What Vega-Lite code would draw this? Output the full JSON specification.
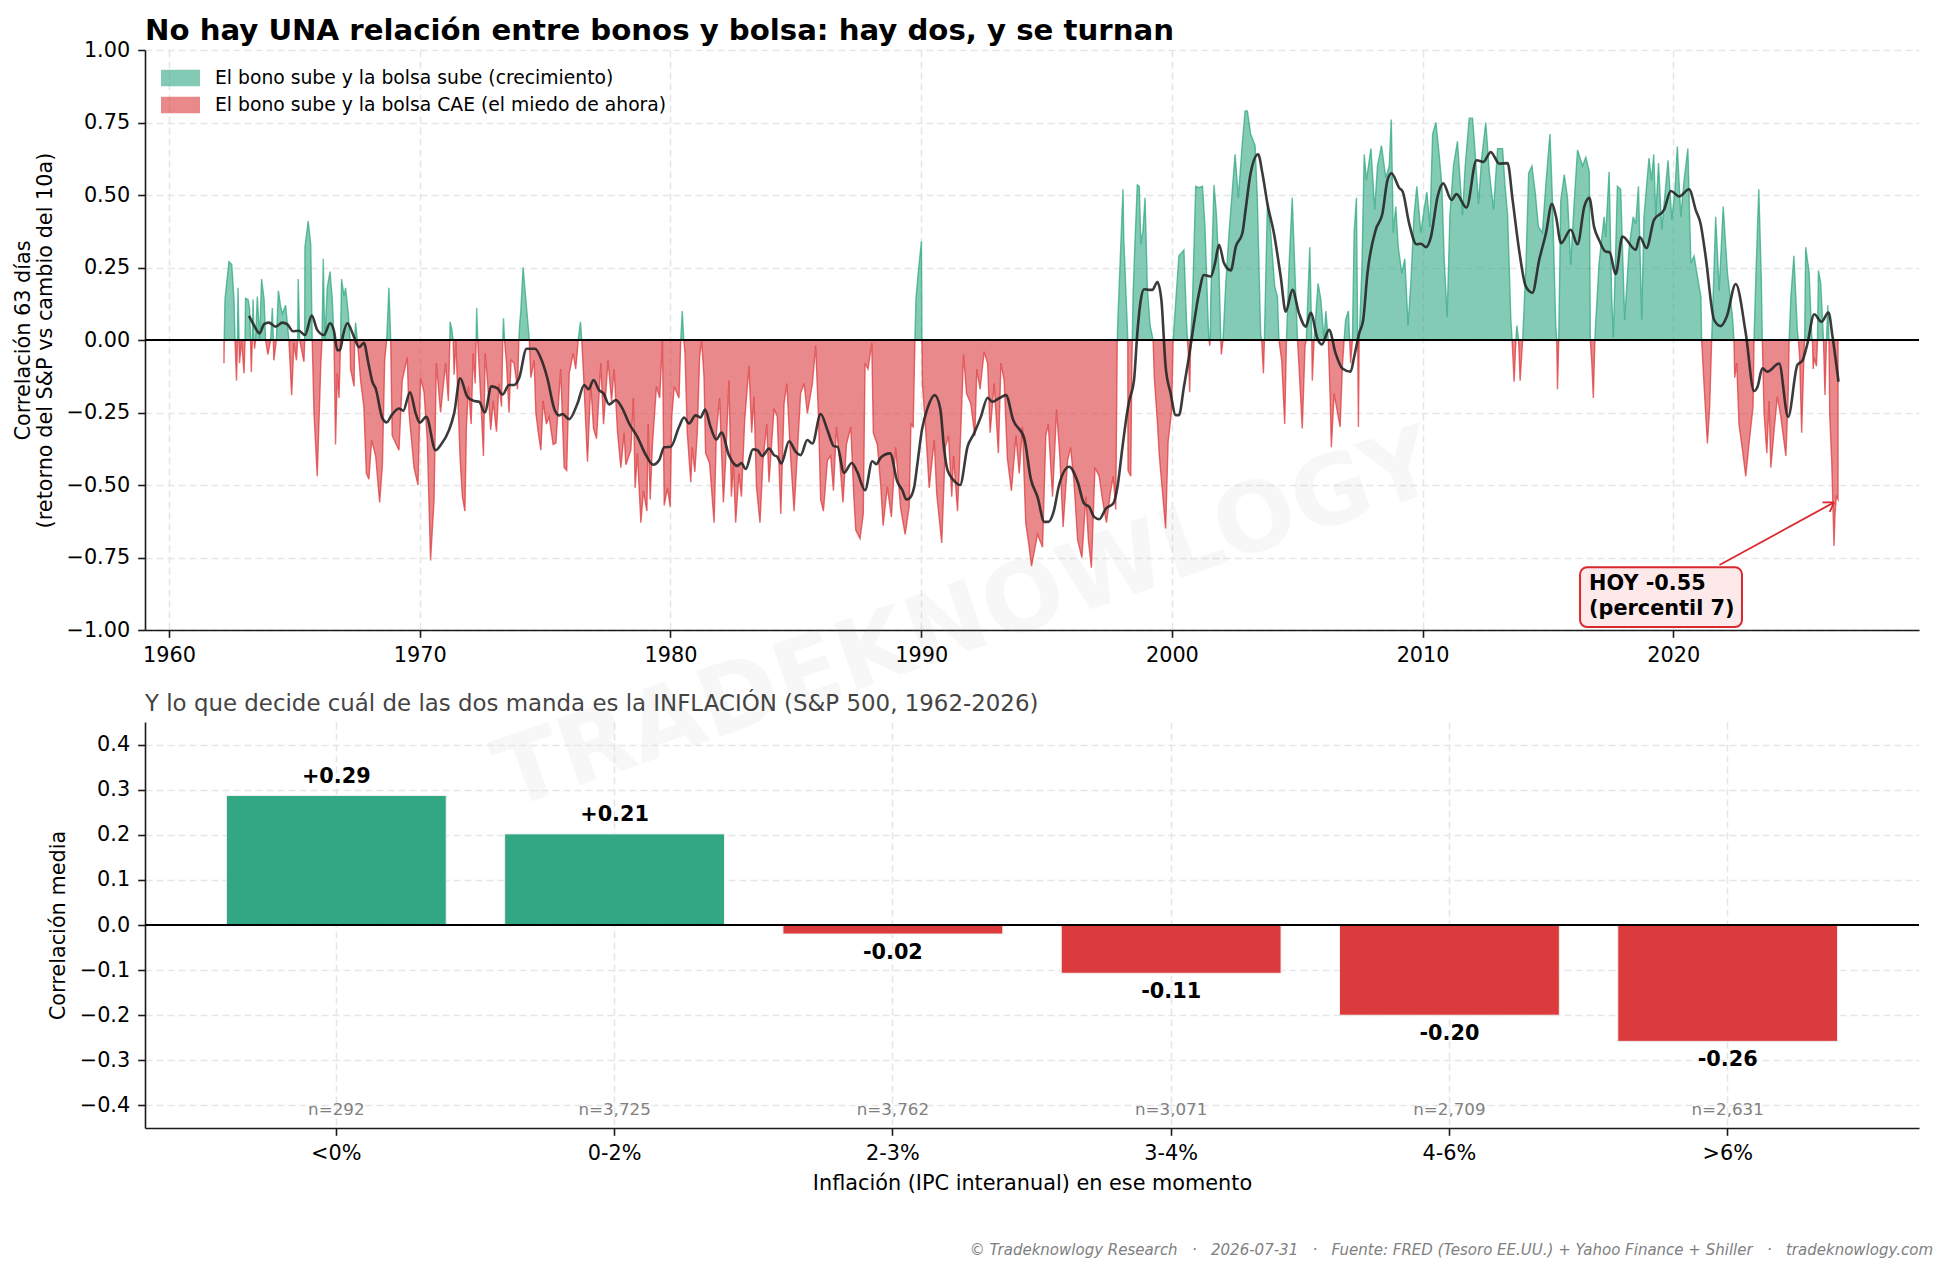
{
"$schema":"https://vega.github.io/schema/vega-lite/v6.json",
"background":"white",
"padding":{"left":12,"top":16,"right":5,"bottom":6},
"spacing":92,
"bounds":"flush",
"title":{"text":"© Tradeknowlogy Research\u00a0\u00a0\u00a0·\u00a0\u00a0\u00a02026-07-31\u00a0\u00a0\u00a0·\u00a0\u00a0\u00a0Fuente: FRED (Tesoro EE.UU.) + Yahoo Finance + Shiller\u00a0\u00a0\u00a0·\u00a0\u00a0\u00a0tradeknowlogy.com","orient":"bottom","anchor":"end","frame":"group","fontSize":15,"fontStyle":"italic","fontWeight":"normal","color":"#808080","offset":50,"dx":14},
"config":{
"font":"DejaVu Sans",
"view":{"stroke":null},
"axis":{"labelFontSize":20.8,"titleFontSize":20.8,"titleFontWeight":"normal","labelColor":"black","titleColor":"black","domainColor":"#1a1a1a","tickColor":"#1a1a1a","domainWidth":1.6,"tickWidth":1.6,"tickSize":7.3,"labelPadding":8,"grid":true,"gridColor":"#e6e6e6","gridWidth":1.6,"gridDash":[7,4]}
},
"datasets":{
"corr":[
{"t":1962.19,"c":-0.08},{"t":1962.2,"c":0},{"t":1962.23,"c":0.14},{"t":1962.39,"c":0.27},{"t":1962.5,"c":0.26},{"t":1962.59,"c":0.14},{"t":1962.63,"c":0},{"t":1962.69,"c":-0.14},{"t":1962.73,"c":0},{"t":1962.75,"c":0.18},{"t":1962.79,"c":0},{"t":1962.81,"c":-0.08},{"t":1962.89,"c":0},{"t":1962.99,"c":-0.115},{"t":1963.03,"c":0},{"t":1963.05,"c":0.144},{"t":1963.15,"c":0.14},{"t":1963.21,"c":0.11},{"t":1963.25,"c":0},{"t":1963.28,"c":-0.11},{"t":1963.32,"c":0},{"t":1963.35,"c":0.14},{"t":1963.39,"c":0},{"t":1963.41,"c":-0.03},{"t":1963.45,"c":0},{"t":1963.52,"c":0.15},{"t":1963.61,"c":0},{"t":1963.69,"c":0.21},{"t":1963.79,"c":0.14},{"t":1963.85,"c":0},{"t":1963.94,"c":-0.05},{"t":1964.05,"c":0},{"t":1964.12,"c":0.11},{"t":1964.16,"c":0},{"t":1964.18,"c":-0.07},{"t":1964.28,"c":0},{"t":1964.36,"c":0.17},{"t":1964.45,"c":0.115},{"t":1964.52,"c":0.09},{"t":1964.65,"c":0.12},{"t":1964.78,"c":0},{"t":1964.89,"c":-0.19},{"t":1964.98,"c":-0.01},{"t":1965.08,"c":-0.07},{"t":1965.13,"c":0},{"t":1965.15,"c":0.21},{"t":1965.21,"c":0},{"t":1965.38,"c":-0.075},{"t":1965.41,"c":0},{"t":1965.42,"c":0.32},{"t":1965.55,"c":0.41},{"t":1965.65,"c":0.33},{"t":1965.71,"c":0},{"t":1965.78,"c":-0.25},{"t":1965.91,"c":-0.47},{"t":1966.05,"c":-0.09},{"t":1966.1,"c":0},{"t":1966.15,"c":0.28},{"t":1966.21,"c":0},{"t":1966.31,"c":0.18},{"t":1966.42,"c":0.236},{"t":1966.51,"c":0.14},{"t":1966.58,"c":0},{"t":1966.64,"c":-0.36},{"t":1966.71,"c":-0.115},{"t":1966.78,"c":-0.2},{"t":1966.84,"c":0},{"t":1966.88,"c":0.21},{"t":1966.98,"c":0.15},{"t":1967.04,"c":0.18},{"t":1967.15,"c":0.09},{"t":1967.22,"c":0},{"t":1967.24,"c":-0.1},{"t":1967.38,"c":-0.16},{"t":1967.4,"c":0},{"t":1967.44,"c":0.06},{"t":1967.51,"c":0},{"t":1967.64,"c":-0.14},{"t":1967.77,"c":-0.23},{"t":1967.87,"c":-0.46},{"t":1967.97,"c":-0.48},{"t":1968.08,"c":-0.345},{"t":1968.24,"c":-0.4},{"t":1968.4,"c":-0.56},{"t":1968.51,"c":-0.43},{"t":1968.6,"c":-0.07},{"t":1968.68,"c":0},{"t":1968.77,"c":0.18},{"t":1968.84,"c":0},{"t":1968.9,"c":-0.33},{"t":1969.17,"c":-0.38},{"t":1969.3,"c":-0.14},{"t":1969.5,"c":-0.06},{"t":1969.57,"c":-0.25},{"t":1969.77,"c":-0.44},{"t":1969.93,"c":-0.5},{"t":1970.03,"c":-0.13},{"t":1970.17,"c":-0.18},{"t":1970.3,"c":-0.345},{"t":1970.43,"c":-0.76},{"t":1970.57,"c":-0.55},{"t":1970.66,"c":-0.08},{"t":1970.83,"c":-0.25},{"t":1971.03,"c":-0.08},{"t":1971.14,"c":-0.21},{"t":1971.2,"c":0},{"t":1971.21,"c":0.063},{"t":1971.28,"c":0.035},{"t":1971.33,"c":0},{"t":1971.37,"c":-0.12},{"t":1971.44,"c":0},{"t":1971.5,"c":-0.15},{"t":1971.61,"c":-0.41},{"t":1971.7,"c":-0.54},{"t":1971.8,"c":-0.59},{"t":1971.86,"c":-0.3},{"t":1971.94,"c":-0.16},{"t":1972.05,"c":-0.29},{"t":1972.13,"c":-0.046},{"t":1972.21,"c":-0.15},{"t":1972.25,"c":0},{"t":1972.27,"c":0.11},{"t":1972.31,"c":0},{"t":1972.43,"c":-0.195},{"t":1972.54,"c":-0.4},{"t":1972.61,"c":-0.046},{"t":1972.7,"c":-0.14},{"t":1972.83,"c":-0.31},{"t":1972.93,"c":-0.21},{"t":1973.06,"c":-0.316},{"t":1973.16,"c":-0.15},{"t":1973.26,"c":-0.23},{"t":1973.31,"c":0},{"t":1973.34,"c":0.075},{"t":1973.38,"c":0},{"t":1973.46,"c":-0.08},{"t":1973.56,"c":-0.25},{"t":1973.64,"c":-0.07},{"t":1973.76,"c":-0.08},{"t":1973.9,"c":-0.17},{"t":1973.95,"c":0},{"t":1973.99,"c":0.06},{"t":1974.03,"c":0.1},{"t":1974.12,"c":0.25},{"t":1974.23,"c":0.14},{"t":1974.32,"c":0.05},{"t":1974.37,"c":0},{"t":1974.43,"c":-0.13},{"t":1974.56,"c":-0.07},{"t":1974.63,"c":-0.25},{"t":1974.73,"c":-0.32},{"t":1974.83,"c":-0.38},{"t":1974.92,"c":-0.21},{"t":1975.05,"c":-0.29},{"t":1975.16,"c":-0.265},{"t":1975.32,"c":-0.36},{"t":1975.43,"c":-0.355},{"t":1975.62,"c":-0.1},{"t":1975.76,"c":-0.44},{"t":1975.86,"c":-0.45},{"t":1975.96,"c":-0.115},{"t":1976.12,"c":-0.046},{"t":1976.22,"c":-0.1},{"t":1976.32,"c":0},{"t":1976.41,"c":0.063},{"t":1976.46,"c":0},{"t":1976.53,"c":-0.115},{"t":1976.69,"c":-0.42},{"t":1976.82,"c":-0.15},{"t":1976.93,"c":-0.305},{"t":1977.05,"c":-0.34},{"t":1977.22,"c":-0.08},{"t":1977.33,"c":-0.29},{"t":1977.51,"c":-0.07},{"t":1977.65,"c":-0.21},{"t":1977.75,"c":-0.1},{"t":1977.89,"c":-0.32},{"t":1978.02,"c":-0.44},{"t":1978.15,"c":-0.32},{"t":1978.22,"c":-0.43},{"t":1978.42,"c":-0.38},{"t":1978.52,"c":-0.2},{"t":1978.59,"c":-0.51},{"t":1978.68,"c":-0.39},{"t":1978.82,"c":-0.63},{"t":1978.92,"c":-0.52},{"t":1979.06,"c":-0.59},{"t":1979.11,"c":-0.29},{"t":1979.19,"c":-0.55},{"t":1979.28,"c":-0.36},{"t":1979.44,"c":-0.16},{"t":1979.57,"c":-0.2},{"t":1979.68,"c":0},{"t":1979.75,"c":-0.57},{"t":1979.88,"c":-0.51},{"t":1979.99,"c":-0.575},{"t":1980.05,"c":-0.265},{"t":1980.15,"c":-0.16},{"t":1980.34,"c":-0.2},{"t":1980.41,"c":0},{"t":1980.47,"c":0.1},{"t":1980.53,"c":0},{"t":1980.58,"c":-0.046},{"t":1980.67,"c":-0.32},{"t":1980.81,"c":-0.49},{"t":1980.87,"c":-0.37},{"t":1980.97,"c":-0.455},{"t":1981.07,"c":-0.32},{"t":1981.16,"c":-0.06},{"t":1981.24,"c":0},{"t":1981.34,"c":-0.13},{"t":1981.4,"c":-0.39},{"t":1981.56,"c":-0.425},{"t":1981.74,"c":-0.63},{"t":1981.83,"c":-0.32},{"t":1981.96,"c":-0.2},{"t":1982.11,"c":-0.56},{"t":1982.2,"c":-0.415},{"t":1982.33,"c":-0.14},{"t":1982.43,"c":-0.54},{"t":1982.51,"c":-0.425},{"t":1982.6,"c":-0.63},{"t":1982.73,"c":-0.46},{"t":1982.83,"c":-0.54},{"t":1982.96,"c":-0.276},{"t":1983.13,"c":-0.09},{"t":1983.24,"c":-0.32},{"t":1983.33,"c":-0.196},{"t":1983.43,"c":-0.506},{"t":1983.57,"c":-0.63},{"t":1983.69,"c":-0.415},{"t":1983.84,"c":-0.29},{"t":1983.93,"c":-0.49},{"t":1984.13,"c":-0.236},{"t":1984.26,"c":-0.265},{"t":1984.4,"c":-0.6},{"t":1984.53,"c":-0.22},{"t":1984.64,"c":-0.15},{"t":1984.79,"c":-0.4},{"t":1984.93,"c":-0.59},{"t":1985.06,"c":-0.39},{"t":1985.19,"c":-0.184},{"t":1985.33,"c":-0.15},{"t":1985.46,"c":-0.253},{"t":1985.66,"c":-0.15},{"t":1985.79,"c":-0.02},{"t":1985.9,"c":-0.253},{"t":1985.99,"c":-0.55},{"t":1986.1,"c":-0.59},{"t":1986.26,"c":-0.415},{"t":1986.39,"c":-0.4},{"t":1986.5,"c":-0.52},{"t":1986.62,"c":-0.3},{"t":1986.75,"c":-0.415},{"t":1986.88,"c":-0.56},{"t":1987.02,"c":-0.36},{"t":1987.19,"c":-0.3},{"t":1987.32,"c":-0.55},{"t":1987.39,"c":-0.655},{"t":1987.56,"c":-0.685},{"t":1987.69,"c":-0.6},{"t":1987.76,"c":-0.08},{"t":1987.88,"c":-0.1},{"t":1988.03,"c":-0.01},{"t":1988.09,"c":-0.32},{"t":1988.25,"c":-0.36},{"t":1988.39,"c":-0.506},{"t":1988.48,"c":-0.64},{"t":1988.65,"c":-0.506},{"t":1988.81,"c":-0.61},{"t":1988.98,"c":-0.37},{"t":1989.18,"c":-0.58},{"t":1989.36,"c":-0.67},{"t":1989.52,"c":-0.575},{"t":1989.59,"c":-0.29},{"t":1989.68,"c":-0.3},{"t":1989.75,"c":0},{"t":1989.79,"c":0.14},{"t":1989.88,"c":0.23},{"t":1990.01,"c":0.34},{"t":1990.03,"c":0},{"t":1990.05,"c":-0.15},{"t":1990.18,"c":-0.31},{"t":1990.32,"c":-0.51},{"t":1990.52,"c":-0.345},{"t":1990.62,"c":-0.53},{"t":1990.82,"c":-0.7},{"t":1990.96,"c":-0.37},{"t":1991.09,"c":-0.33},{"t":1991.22,"c":-0.54},{"t":1991.29,"c":-0.4},{"t":1991.45,"c":-0.59},{"t":1991.58,"c":-0.31},{"t":1991.69,"c":-0.05},{"t":1991.81,"c":-0.185},{"t":1991.98,"c":-0.22},{"t":1992.14,"c":-0.33},{"t":1992.22,"c":-0.1},{"t":1992.35,"c":-0.17},{"t":1992.51,"c":-0.04},{"t":1992.65,"c":-0.08},{"t":1992.75,"c":-0.32},{"t":1992.91,"c":-0.15},{"t":1993.08,"c":-0.39},{"t":1993.18,"c":-0.08},{"t":1993.31,"c":-0.14},{"t":1993.44,"c":-0.41},{"t":1993.6,"c":-0.52},{"t":1993.78,"c":-0.33},{"t":1993.91,"c":-0.46},{"t":1994.04,"c":-0.3},{"t":1994.17,"c":-0.63},{"t":1994.31,"c":-0.715},{"t":1994.4,"c":-0.78},{"t":1994.64,"c":-0.67},{"t":1994.84,"c":-0.715},{"t":1994.97,"c":-0.33},{"t":1995.07,"c":-0.29},{"t":1995.24,"c":-0.54},{"t":1995.4,"c":-0.24},{"t":1995.53,"c":-0.4},{"t":1995.66,"c":-0.645},{"t":1995.84,"c":-0.415},{"t":1995.96,"c":-0.37},{"t":1996.1,"c":-0.495},{"t":1996.24,"c":-0.69},{"t":1996.41,"c":-0.75},{"t":1996.57,"c":-0.54},{"t":1996.67,"c":-0.69},{"t":1996.79,"c":-0.785},{"t":1996.93,"c":-0.44},{"t":1997.1,"c":-0.47},{"t":1997.23,"c":-0.55},{"t":1997.39,"c":-0.63},{"t":1997.54,"c":-0.53},{"t":1997.66,"c":-0.47},{"t":1997.76,"c":-0.585},{"t":1997.82,"c":0},{"t":1997.85,"c":0.08},{"t":1997.95,"c":0.3},{"t":1998.05,"c":0.52},{"t":1998.08,"c":0.35},{"t":1998.15,"c":0.2},{"t":1998.22,"c":0.05},{"t":1998.24,"c":0},{"t":1998.25,"c":-0.45},{"t":1998.36,"c":-0.47},{"t":1998.4,"c":-0.1},{"t":1998.42,"c":0},{"t":1998.45,"c":0.15},{"t":1998.52,"c":0.32},{"t":1998.62,"c":0.535},{"t":1998.7,"c":0.53},{"t":1998.76,"c":0.33},{"t":1998.85,"c":0.38},{"t":1998.93,"c":0.49},{"t":1999.02,"c":0.18},{"t":1999.13,"c":0.05},{"t":1999.25,"c":0},{"t":1999.3,"c":-0.13},{"t":1999.42,"c":-0.28},{"t":1999.5,"c":-0.4},{"t":1999.6,"c":-0.5},{"t":1999.75,"c":-0.65},{"t":1999.85,"c":-0.35},{"t":1999.98,"c":-0.25},{"t":2000.02,"c":-0.12},{"t":2000.05,"c":0},{"t":2000.15,"c":0.127},{"t":2000.28,"c":0.29},{"t":2000.48,"c":0.31},{"t":2000.58,"c":0.07},{"t":2000.62,"c":0},{"t":2000.66,"c":-0.05},{"t":2000.71,"c":-0.18},{"t":2000.75,"c":0},{"t":2000.82,"c":0.127},{"t":2000.95,"c":0.53},{"t":2001.08,"c":0.525},{"t":2001.22,"c":0.53},{"t":2001.32,"c":0.39},{"t":2001.45,"c":0.05},{"t":2001.48,"c":0},{"t":2001.51,"c":-0.02},{"t":2001.53,"c":0},{"t":2001.55,"c":0.14},{"t":2001.68,"c":0.535},{"t":2001.77,"c":0.44},{"t":2001.88,"c":0.24},{"t":2001.95,"c":0},{"t":2001.97,"c":-0.05},{"t":2002.04,"c":0},{"t":2002.15,"c":0.195},{"t":2002.28,"c":0.37},{"t":2002.52,"c":0.64},{"t":2002.65,"c":0.49},{"t":2002.81,"c":0.68},{"t":2002.92,"c":0.79},{"t":2003.01,"c":0.79},{"t":2003.14,"c":0.71},{"t":2003.32,"c":0.67},{"t":2003.41,"c":0.48},{"t":2003.54,"c":0.02},{"t":2003.58,"c":0},{"t":2003.65,"c":-0.115},{"t":2003.69,"c":0},{"t":2003.81,"c":0.47},{"t":2003.94,"c":0.37},{"t":2004.1,"c":0.185},{"t":2004.21,"c":0.15},{"t":2004.27,"c":0},{"t":2004.38,"c":-0.07},{"t":2004.5,"c":-0.29},{"t":2004.57,"c":0},{"t":2004.67,"c":0.25},{"t":2004.8,"c":0.49},{"t":2004.9,"c":0.25},{"t":2005.01,"c":0},{"t":2005.07,"c":-0.09},{"t":2005.2,"c":-0.305},{"t":2005.31,"c":-0.02},{"t":2005.36,"c":0},{"t":2005.5,"c":0.32},{"t":2005.58,"c":0},{"t":2005.6,"c":-0.14},{"t":2005.67,"c":0},{"t":2005.83,"c":0.195},{"t":2005.94,"c":0.14},{"t":2006.07,"c":0},{"t":2006.14,"c":0.1},{"t":2006.24,"c":0},{"t":2006.31,"c":-0.185},{"t":2006.36,"c":-0.37},{"t":2006.47,"c":-0.185},{"t":2006.71,"c":-0.3},{"t":2006.8,"c":-0.09},{"t":2006.87,"c":0},{"t":2006.93,"c":0.07},{"t":2007.04,"c":0.1},{"t":2007.09,"c":0},{"t":2007.13,"c":-0.08},{"t":2007.2,"c":0},{"t":2007.27,"c":0.37},{"t":2007.36,"c":0.49},{"t":2007.39,"c":0.2},{"t":2007.41,"c":0},{"t":2007.44,"c":-0.3},{"t":2007.47,"c":0},{"t":2007.58,"c":0.25},{"t":2007.67,"c":0.64},{"t":2007.76,"c":0.55},{"t":2007.94,"c":0.66},{"t":2008.09,"c":0.45},{"t":2008.2,"c":0.6},{"t":2008.36,"c":0.67},{"t":2008.53,"c":0.56},{"t":2008.67,"c":0.6},{"t":2008.75,"c":0.76},{"t":2008.83,"c":0.37},{"t":2008.93,"c":0.46},{"t":2009.03,"c":0.32},{"t":2009.17,"c":0.23},{"t":2009.29,"c":0.28},{"t":2009.42,"c":0.05},{"t":2009.53,"c":0.195},{"t":2009.66,"c":0.43},{"t":2009.77,"c":0.53},{"t":2009.93,"c":0.37},{"t":2010.06,"c":0.45},{"t":2010.17,"c":0.51},{"t":2010.29,"c":0.39},{"t":2010.4,"c":0.71},{"t":2010.53,"c":0.75},{"t":2010.66,"c":0.64},{"t":2010.77,"c":0.53},{"t":2010.86,"c":0.28},{"t":2010.98,"c":0.08},{"t":2011.09,"c":0.43},{"t":2011.23,"c":0.6},{"t":2011.39,"c":0.685},{"t":2011.59,"c":0.43},{"t":2011.7,"c":0.6},{"t":2011.86,"c":0.765},{"t":2011.99,"c":0.765},{"t":2012.06,"c":0.69},{"t":2012.23,"c":0.47},{"t":2012.36,"c":0.63},{"t":2012.52,"c":0.75},{"t":2012.66,"c":0.58},{"t":2012.83,"c":0.45},{"t":2012.99,"c":0.66},{"t":2013.19,"c":0.66},{"t":2013.28,"c":0.54},{"t":2013.39,"c":0.43},{"t":2013.52,"c":0.07},{"t":2013.57,"c":0},{"t":2013.65,"c":-0.144},{"t":2013.72,"c":0},{"t":2013.76,"c":0.05},{"t":2013.83,"c":0},{"t":2013.89,"c":-0.14},{"t":2013.99,"c":0},{"t":2014.12,"c":0.25},{"t":2014.23,"c":0.575},{"t":2014.36,"c":0.6},{"t":2014.49,"c":0.51},{"t":2014.62,"c":0.39},{"t":2014.78,"c":0.37},{"t":2014.92,"c":0.54},{"t":2015.08,"c":0.71},{"t":2015.18,"c":0.48},{"t":2015.31,"c":0.05},{"t":2015.35,"c":0},{"t":2015.38,"c":-0.17},{"t":2015.43,"c":0},{"t":2015.51,"c":0.48},{"t":2015.65,"c":0.57},{"t":2015.78,"c":0.49},{"t":2015.91,"c":0.26},{"t":2016.05,"c":0.48},{"t":2016.18,"c":0.655},{"t":2016.38,"c":0.6},{"t":2016.51,"c":0.63},{"t":2016.65,"c":0.58},{"t":2016.69,"c":0},{"t":2016.75,"c":-0.08},{"t":2016.81,"c":-0.2},{"t":2016.87,"c":0},{"t":2016.91,"c":0.07},{"t":2017.04,"c":0.265},{"t":2017.24,"c":0.425},{"t":2017.3,"c":0.355},{"t":2017.44,"c":0.58},{"t":2017.54,"c":0.15},{"t":2017.61,"c":0.01},{"t":2017.77,"c":0.53},{"t":2017.9,"c":0.52},{"t":2018.06,"c":0.07},{"t":2018.24,"c":0.32},{"t":2018.4,"c":0.425},{"t":2018.5,"c":0.4},{"t":2018.61,"c":0.53},{"t":2018.74,"c":0.07},{"t":2018.83,"c":0.425},{"t":2019.03,"c":0.627},{"t":2019.13,"c":0.55},{"t":2019.22,"c":0.64},{"t":2019.3,"c":0.425},{"t":2019.41,"c":0.61},{"t":2019.54,"c":0.38},{"t":2019.79,"c":0.62},{"t":2019.94,"c":0.415},{"t":2020.07,"c":0.52},{"t":2020.16,"c":0.667},{"t":2020.3,"c":0.425},{"t":2020.43,"c":0.55},{"t":2020.58,"c":0.66},{"t":2020.7,"c":0.265},{"t":2020.83,"c":0.29},{"t":2020.92,"c":0.24},{"t":2021.1,"c":0.15},{"t":2021.13,"c":0},{"t":2021.23,"c":-0.16},{"t":2021.36,"c":-0.357},{"t":2021.45,"c":-0.23},{"t":2021.53,"c":0},{"t":2021.59,"c":0.15},{"t":2021.69,"c":0.425},{"t":2021.83,"c":0.17},{"t":2021.99,"c":0.46},{"t":2022.16,"c":0.23},{"t":2022.36,"c":0.08},{"t":2022.42,"c":0},{"t":2022.45,"c":-0.13},{"t":2022.53,"c":-0.08},{"t":2022.62,"c":-0.29},{"t":2022.76,"c":-0.38},{"t":2022.89,"c":-0.47},{"t":2023.02,"c":-0.357},{"t":2023.18,"c":-0.23},{"t":2023.22,"c":0},{"t":2023.29,"c":0.21},{"t":2023.41,"c":0.52},{"t":2023.51,"c":0.21},{"t":2023.55,"c":0},{"t":2023.62,"c":-0.25},{"t":2023.73,"c":-0.39},{"t":2023.82,"c":-0.21},{"t":2023.89,"c":-0.44},{"t":2024.02,"c":-0.31},{"t":2024.15,"c":-0.195},{"t":2024.29,"c":-0.265},{"t":2024.49,"c":-0.4},{"t":2024.58,"c":-0.195},{"t":2024.62,"c":0},{"t":2024.69,"c":0.15},{"t":2024.81,"c":0.29},{"t":2024.95,"c":0.03},{"t":2024.99,"c":0},{"t":2025.04,"c":-0.06},{"t":2025.12,"c":-0.32},{"t":2025.22,"c":-0.02},{"t":2025.24,"c":0},{"t":2025.28,"c":0.32},{"t":2025.42,"c":0.23},{"t":2025.52,"c":0.01},{"t":2025.55,"c":0},{"t":2025.58,"c":-0.1},{"t":2025.62,"c":-0.06},{"t":2025.71,"c":-0.09},{"t":2025.75,"c":0},{"t":2025.79,"c":0.24},{"t":2025.88,"c":0.195},{"t":2025.99,"c":0},{"t":2026.05,"c":-0.19},{"t":2026.11,"c":0},{"t":2026.16,"c":0.12},{"t":2026.21,"c":0},{"t":2026.24,"c":-0.26},{"t":2026.32,"c":-0.42},{"t":2026.41,"c":-0.71},{"t":2026.45,"c":-0.6},{"t":2026.5,"c":-0.54},{"t":2026.57,"c":-0.55}
],
"media":[
{"t":1963.19,"c":0.083},{"t":1963.39,"c":0.05},{"t":1963.61,"c":0.023},{"t":1963.79,"c":0.055},{"t":1963.98,"c":0.06},{"t":1964.25,"c":0.046},{"t":1964.52,"c":0.06},{"t":1964.72,"c":0.054},{"t":1964.94,"c":0.03},{"t":1965.18,"c":0.032},{"t":1965.42,"c":0.017},{"t":1965.69,"c":0.084},{"t":1965.91,"c":0.035},{"t":1966.18,"c":0.017},{"t":1966.42,"c":0.058},{"t":1966.58,"c":0.03},{"t":1966.71,"c":-0.035},{"t":1966.82,"c":-0.035},{"t":1966.94,"c":0.017},{"t":1967.11,"c":0.058},{"t":1967.38,"c":0.01},{"t":1967.58,"c":-0.025},{"t":1967.77,"c":-0.01},{"t":1967.95,"c":-0.08},{"t":1968.11,"c":-0.144},{"t":1968.24,"c":-0.167},{"t":1968.51,"c":-0.27},{"t":1968.68,"c":-0.284},{"t":1968.87,"c":-0.26},{"t":1969.17,"c":-0.236},{"t":1969.34,"c":-0.244},{"t":1969.61,"c":-0.18},{"t":1969.84,"c":-0.254},{"t":1970.0,"c":-0.285},{"t":1970.26,"c":-0.265},{"t":1970.63,"c":-0.38},{"t":1970.83,"c":-0.363},{"t":1971.17,"c":-0.31},{"t":1971.37,"c":-0.253},{"t":1971.61,"c":-0.132},{"t":1971.9,"c":-0.196},{"t":1972.17,"c":-0.21},{"t":1972.37,"c":-0.213},{"t":1972.59,"c":-0.25},{"t":1972.86,"c":-0.16},{"t":1973.1,"c":-0.167},{"t":1973.3,"c":-0.188},{"t":1973.56,"c":-0.155},{"t":1973.76,"c":-0.155},{"t":1973.96,"c":-0.132},{"t":1974.26,"c":-0.03},{"t":1974.6,"c":-0.03},{"t":1974.83,"c":-0.063},{"t":1975.09,"c":-0.132},{"t":1975.36,"c":-0.236},{"t":1975.56,"c":-0.26},{"t":1975.69,"c":-0.255},{"t":1975.96,"c":-0.273},{"t":1976.29,"c":-0.219},{"t":1976.56,"c":-0.155},{"t":1976.73,"c":-0.17},{"t":1976.93,"c":-0.138},{"t":1977.15,"c":-0.173},{"t":1977.33,"c":-0.184},{"t":1977.55,"c":-0.222},{"t":1977.82,"c":-0.207},{"t":1978.08,"c":-0.236},{"t":1978.35,"c":-0.288},{"t":1978.68,"c":-0.334},{"t":1979.02,"c":-0.397},{"t":1979.31,"c":-0.43},{"t":1979.55,"c":-0.414},{"t":1979.75,"c":-0.37},{"t":1980.01,"c":-0.368},{"t":1980.34,"c":-0.3},{"t":1980.54,"c":-0.267},{"t":1980.74,"c":-0.288},{"t":1981.0,"c":-0.26},{"t":1981.2,"c":-0.267},{"t":1981.38,"c":-0.24},{"t":1981.6,"c":-0.3},{"t":1981.83,"c":-0.343},{"t":1982.04,"c":-0.319},{"t":1982.33,"c":-0.397},{"t":1982.67,"c":-0.434},{"t":1982.83,"c":-0.424},{"t":1983.0,"c":-0.445},{"t":1983.29,"c":-0.377},{"t":1983.47,"c":-0.38},{"t":1983.66,"c":-0.4},{"t":1983.93,"c":-0.374},{"t":1984.13,"c":-0.397},{"t":1984.26,"c":-0.403},{"t":1984.42,"c":-0.426},{"t":1984.73,"c":-0.349},{"t":1985.0,"c":-0.386},{"t":1985.19,"c":-0.397},{"t":1985.46,"c":-0.345},{"t":1985.66,"c":-0.357},{"t":1985.99,"c":-0.255},{"t":1986.26,"c":-0.31},{"t":1986.52,"c":-0.366},{"t":1986.66,"c":-0.368},{"t":1986.92,"c":-0.458},{"t":1987.23,"c":-0.424},{"t":1987.45,"c":-0.455},{"t":1987.76,"c":-0.518},{"t":1988.05,"c":-0.418},{"t":1988.21,"c":-0.428},{"t":1988.39,"c":-0.405},{"t":1988.76,"c":-0.391},{"t":1989.05,"c":-0.489},{"t":1989.25,"c":-0.518},{"t":1989.41,"c":-0.55},{"t":1989.52,"c":-0.547},{"t":1989.72,"c":-0.507},{"t":1989.85,"c":-0.426},{"t":1990.03,"c":-0.31},{"t":1990.25,"c":-0.236},{"t":1990.54,"c":-0.19},{"t":1990.76,"c":-0.236},{"t":1990.92,"c":-0.38},{"t":1991.05,"c":-0.449},{"t":1991.29,"c":-0.483},{"t":1991.55,"c":-0.5},{"t":1991.85,"c":-0.368},{"t":1992.11,"c":-0.322},{"t":1992.38,"c":-0.265},{"t":1992.65,"c":-0.199},{"t":1992.84,"c":-0.213},{"t":1993.11,"c":-0.201},{"t":1993.38,"c":-0.19},{"t":1993.67,"c":-0.276},{"t":1994.11,"c":-0.339},{"t":1994.37,"c":-0.478},{"t":1994.64,"c":-0.541},{"t":1994.91,"c":-0.627},{"t":1995.08,"c":-0.627},{"t":1995.28,"c":-0.593},{"t":1995.5,"c":-0.5},{"t":1995.9,"c":-0.437},{"t":1996.24,"c":-0.489},{"t":1996.5,"c":-0.564},{"t":1996.7,"c":-0.575},{"t":1996.9,"c":-0.61},{"t":1997.1,"c":-0.618},{"t":1997.37,"c":-0.581},{"t":1997.66,"c":-0.564},{"t":1997.83,"c":-0.506},{"t":1998.03,"c":-0.368},{"t":1998.23,"c":-0.242},{"t":1998.29,"c":-0.213},{"t":1998.49,"c":-0.138},{"t":1998.62,"c":0.023},{"t":1998.76,"c":0.138},{"t":1998.89,"c":0.175},{"t":1999.09,"c":0.173},{"t":1999.22,"c":0.173},{"t":1999.42,"c":0.2},{"t":1999.58,"c":0.138},{"t":1999.75,"c":-0.092},{"t":1999.95,"c":-0.184},{"t":2000.15,"c":-0.259},{"t":2000.28,"c":-0.259},{"t":2000.48,"c":-0.161},{"t":2000.68,"c":-0.058},{"t":2000.88,"c":0.058},{"t":2001.08,"c":0.161},{"t":2001.28,"c":0.224},{"t":2001.55,"c":0.219},{"t":2001.72,"c":0.265},{"t":2001.88,"c":0.328},{"t":2002.08,"c":0.265},{"t":2002.35,"c":0.24},{"t":2002.55,"c":0.322},{"t":2002.81,"c":0.368},{"t":2002.94,"c":0.449},{"t":2003.14,"c":0.575},{"t":2003.44,"c":0.64},{"t":2003.61,"c":0.575},{"t":2003.81,"c":0.47},{"t":2004.07,"c":0.368},{"t":2004.34,"c":0.219},{"t":2004.54,"c":0.098},{"t":2004.81,"c":0.173},{"t":2005.07,"c":0.092},{"t":2005.34,"c":0.046},{"t":2005.54,"c":0.094},{"t":2005.8,"c":0.006},{"t":2005.98,"c":-0.015},{"t":2006.27,"c":0.035},{"t":2006.53,"c":-0.046},{"t":2006.8,"c":-0.098},{"t":2007.13,"c":-0.109},{"t":2007.27,"c":-0.058},{"t":2007.47,"c":0.023},{"t":2007.63,"c":0.069},{"t":2007.8,"c":0.23},{"t":2008.13,"c":0.38},{"t":2008.4,"c":0.437},{"t":2008.6,"c":0.552},{"t":2008.76,"c":0.575},{"t":2009.07,"c":0.524},{"t":2009.2,"c":0.513},{"t":2009.46,"c":0.403},{"t":2009.76,"c":0.33},{"t":2009.93,"c":0.332},{"t":2010.13,"c":0.32},{"t":2010.33,"c":0.355},{"t":2010.6,"c":0.495},{"t":2010.82,"c":0.54},{"t":2011.15,"c":0.483},{"t":2011.35,"c":0.503},{"t":2011.75,"c":0.457},{"t":2012.15,"c":0.62},{"t":2012.42,"c":0.614},{"t":2012.72,"c":0.648},{"t":2013.06,"c":0.608},{"t":2013.39,"c":0.61},{"t":2013.59,"c":0.483},{"t":2013.85,"c":0.31},{"t":2014.12,"c":0.184},{"t":2014.38,"c":0.163},{"t":2014.65,"c":0.276},{"t":2014.92,"c":0.368},{"t":2015.16,"c":0.47},{"t":2015.32,"c":0.426},{"t":2015.52,"c":0.334},{"t":2015.91,"c":0.38},{"t":2016.18,"c":0.33},{"t":2016.45,"c":0.46},{"t":2016.65,"c":0.49},{"t":2016.84,"c":0.39},{"t":2017.04,"c":0.345},{"t":2017.3,"c":0.305},{"t":2017.46,"c":0.303},{"t":2017.7,"c":0.227},{"t":2017.97,"c":0.357},{"t":2018.5,"c":0.311},{"t":2018.66,"c":0.355},{"t":2018.93,"c":0.317},{"t":2019.23,"c":0.414},{"t":2019.63,"c":0.449},{"t":2019.9,"c":0.514},{"t":2020.23,"c":0.495},{"t":2020.63,"c":0.52},{"t":2020.9,"c":0.447},{"t":2021.09,"c":0.4},{"t":2021.29,"c":0.288},{"t":2021.63,"c":0.069},{"t":2021.89,"c":0.048},{"t":2022.13,"c":0.08},{"t":2022.49,"c":0.193},{"t":2022.89,"c":0.023},{"t":2023.22,"c":-0.176},{"t":2023.36,"c":-0.161},{"t":2023.55,"c":-0.098},{"t":2023.75,"c":-0.109},{"t":2024.22,"c":-0.081},{"t":2024.58,"c":-0.265},{"t":2024.95,"c":-0.086},{"t":2025.15,"c":-0.071},{"t":2025.35,"c":-0.012},{"t":2025.62,"c":0.089},{"t":2025.91,"c":0.063},{"t":2026.19,"c":0.095},{"t":2026.35,"c":0.012},{"t":2026.59,"c":-0.144}
],
"flecha":[
{"t":2021.84,"c":-0.776,"t2":2026.41,"c2":-0.56},
{"t":2025.95,"c":-0.56,"t2":2026.41,"c2":-0.56},
{"t":2026.24,"c":-0.593,"t2":2026.41,"c2":-0.56}
],
"caja":[{"t":2016.28,"c":-0.784,"t2":2022.74,"c2":-0.99}],
"nota":[{"t":2016.64,"c":-0.842,"texto":"HOY -0.55"},{"t":2016.64,"c":-0.927,"texto":"(percentil 7)"}],
"sello":[{"t":1991.8,"c":-0.97,"texto":"TRADEKNOWLOGY"}],
"barras":[
{"tramo":"<0%","v":0.287,"etiqueta":"+0.29","n":"n=292"},
{"tramo":"0-2%","v":0.202,"etiqueta":"+0.21","n":"n=3,725"},
{"tramo":"2-3%","v":-0.02,"etiqueta":"-0.02","n":"n=3,762"},
{"tramo":"3-4%","v":-0.107,"etiqueta":"-0.11","n":"n=3,071"},
{"tramo":"4-6%","v":-0.2,"etiqueta":"-0.20","n":"n=2,709"},
{"tramo":">6%","v":-0.258,"etiqueta":"-0.26","n":"n=2,631"}
]
},
"vconcat":[
{
"width":1774,"height":580,
"title":{"text":"No hay UNA relación entre bonos y bolsa: hay dos, y se turnan","anchor":"start","frame":"group","fontSize":29.2,"fontWeight":"bold","color":"black","offset":-7},
"encoding":{
"x":{"field":"t","type":"quantitative","title":null,"scale":{"domain":[1959.04,2029.8],"nice":false,"zero":false},"axis":{"values":[1960,1970,1980,1990,2000,2010,2020],"format":"d"}},
"y":{"field":"c","type":"quantitative","title":["Correlación 63 días","(retorno del S&P vs cambio del 10a)"],"scale":{"domain":[-1,1],"nice":false},"axis":{"values":[-1,-0.75,-0.5,-0.25,0,0.25,0.5,0.75,1],"format":".2f","titlePadding":10}}
},
"layer":[
{"data":{"name":"sello"},"mark":{"type":"text","angle":341,"fontSize":96,"fontWeight":"bold","color":"#808080","opacity":0.055},"encoding":{"text":{"field":"texto"}}},
{"data":{"name":"corr"},"transform":[{"filter":"datum.c>=0"}],
"mark":{"type":"area","fillOpacity":0.6,"strokeOpacity":0.75,"strokeWidth":1.4},
"encoding":{
"y2":{"datum":0},
"fill":{"datum":"El bono sube y la bolsa sube (crecimiento)","scale":{"domain":["El bono sube y la bolsa sube (crecimiento)","El bono sube y la bolsa CAE (el miedo de ahora)"],"range":["#31a883","#dc3b3e"]},"legend":{"title":null,"orient":"none","legendX":19.5,"legendY":12,"symbolType":"M-1.25,-0.5H1.25V0.5H-1.25Z","symbolSize":900,"symbolOpacity":0.6,"labelFontSize":18.75,"labelColor":"black","labelLimit":700,"rowPadding":-1,"labelOffset":18.5,"symbolStrokeWidth":1.5}},
"stroke":{"datum":"El bono sube y la bolsa sube (crecimiento)","scale":{"domain":["El bono sube y la bolsa sube (crecimiento)","El bono sube y la bolsa CAE (el miedo de ahora)"],"range":["#31a883","#dc3b3e"]},"legend":{"title":null,"orient":"none","legendX":19.5,"legendY":12,"symbolType":"M-1.25,-0.5H1.25V0.5H-1.25Z","symbolSize":900,"symbolOpacity":0.6,"labelFontSize":18.75,"labelColor":"black","labelLimit":700,"rowPadding":-1,"labelOffset":18.5,"symbolStrokeWidth":1.5}}
}},
{"data":{"name":"corr"},"transform":[{"filter":"datum.c<=0"}],
"mark":{"type":"area","fillOpacity":0.6,"strokeOpacity":0.75,"strokeWidth":1.4},
"encoding":{
"y2":{"datum":0},
"fill":{"datum":"El bono sube y la bolsa CAE (el miedo de ahora)"},
"stroke":{"datum":"El bono sube y la bolsa CAE (el miedo de ahora)"}
}},
{"data":{"name":"media"},"mark":{"type":"line","interpolate":"monotone","color":"#262626","strokeWidth":2.6,"opacity":0.9}},
{"data":{"name":"sello"},"mark":{"type":"rule","color":"black","strokeWidth":2},"encoding":{"x":null,"y":{"datum":0}}},
{"data":{"name":"flecha"},"mark":{"type":"rule","color":"#d9282f","strokeWidth":1.8},"encoding":{"x2":{"field":"t2"},"y2":{"field":"c2"}}},
{"data":{"name":"caja"},"mark":{"type":"rect","fill":"#fde8ea","stroke":"#d9282f","strokeWidth":2,"cornerRadius":7},"encoding":{"x2":{"field":"t2"},"y2":{"field":"c2"}}},
{"data":{"name":"nota"},"mark":{"type":"text","align":"left","baseline":"middle","fontSize":20.8,"fontWeight":"bold","color":"black"},"encoding":{"text":{"field":"texto"}}}
]
},
{
"width":1774,"height":406,
"title":{"text":"Y lo que decide cuál de las dos manda es la INFLACIÓN (S&P 500, 1962-2026)","anchor":"start","frame":"group","fontSize":22.9,"fontWeight":"normal","color":"#444444","offset":6},
"data":{"name":"barras"},
"encoding":{
"x":{"field":"tramo","type":"nominal","sort":null,"title":"Inflación (IPC interanual) en ese momento","scale":{"paddingInner":0.21,"paddingOuter":0.2925},"axis":{"labelAngle":0,"titlePadding":10}},
"y":{"type":"quantitative","title":"Correlación media","scale":{"domain":[-0.45,0.45],"nice":false},"axis":{"values":[-0.4,-0.3,-0.2,-0.1,0,0.1,0.2,0.3,0.4],"format":".1f","titlePadding":11}}
},
"layer":[
{"mark":{"type":"bar","stroke":"#f0f0f0","strokeWidth":1},"encoding":{"y":{"field":"v"},"y2":{"datum":0},"color":{"condition":{"test":"datum.v>0","value":"#31a883"},"value":"#dc3b3e"}}},
{"mark":{"type":"rule","color":"black","strokeWidth":2},"encoding":{"x":null,"y":{"datum":0}}},
{"transform":[{"filter":"datum.v>0"}],"mark":{"type":"text","baseline":"bottom","dy":-9,"fontSize":20.8,"fontWeight":"bold","color":"black"},"encoding":{"y":{"field":"v"},"text":{"field":"etiqueta"}}},
{"transform":[{"filter":"datum.v<0"}],"mark":{"type":"text","baseline":"top","dy":9,"fontSize":20.8,"fontWeight":"bold","color":"black"},"encoding":{"y":{"field":"v"},"text":{"field":"etiqueta"}}},
{"mark":{"type":"text","fontSize":16.7,"color":"#808080"},"encoding":{"y":{"datum":-0.41},"text":{"field":"n"}}}
]
}
]
}
